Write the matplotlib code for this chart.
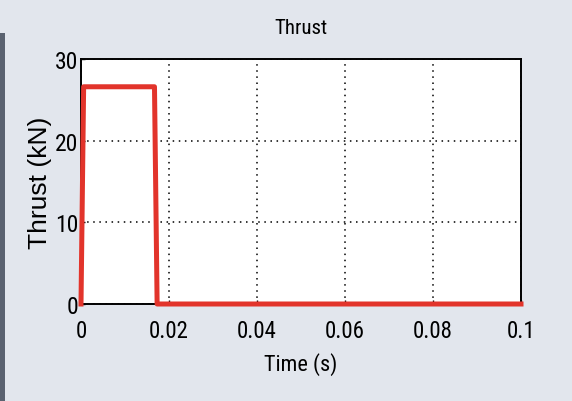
import matplotlib
matplotlib.use("Agg")
import matplotlib.pyplot as plt
from matplotlib.patches import Rectangle

# Thrust pulse sampled at its corner points
time_s = [0.0, 0.0006, 0.0167, 0.0173, 0.1]
thrust_kn = [0.0, 26.6, 26.6, 0.0, 0.0]
x_ticks = [0, 0.02, 0.04, 0.06, 0.08, 0.1]
x_tick_labels = ["0", "0.02", "0.04", "0.06", "0.08", "0.1"]
y_ticks = [0, 10, 20, 30]
y_tick_labels = ["0", "10", "20", "30"]

narrow = ["Roboto Condensed", "DejaVu Sans"]
regular = ["Liberation Sans", "DejaVu Sans"]

fig = plt.figure(figsize=(5.72, 4.02), dpi=100, facecolor="#e2e6ed")
fig.patches.append(Rectangle((0, 0), 0.009, 0.915, transform=fig.transFigure,
                             facecolor="#5a6270", edgecolor="none", zorder=0))

ax = fig.add_axes([81 / 572, 97 / 402, 440 / 572, 245 / 402])
ax.set_facecolor("white")

ax.plot(time_s, thrust_kn, color="#e2342b", linewidth=3.6,
        solid_joinstyle="round", clip_on=False, zorder=5)

ax.set_xlim(0, 0.1)
ax.set_ylim(0, 30)
ax.set_xticks(x_ticks)
ax.set_xticklabels(x_tick_labels, family=narrow, fontsize=16.5)
ax.set_yticks(y_ticks)
ax.set_yticklabels(y_tick_labels, family=narrow, fontsize=17)
ax.tick_params(direction="in", length=3, width=1, colors="black")
ax.tick_params(axis="x", pad=11)
ax.tick_params(axis="y", pad=2)

ax.grid(True, color="black", linestyle=(0, (1, 3)), linewidth=1.1)
for s in ax.spines.values():
    s.set_linewidth(1.4)
    s.set_color("black")

ax.set_title("Thrust", family=narrow, fontsize=15, pad=19)
ax.set_xlabel("Time (s)", family=narrow, fontsize=16, labelpad=7)
ax.set_ylabel("Thrust (kN)", family=regular, fontsize=19, labelpad=2)

fig.savefig("out.png", dpi=100, facecolor=fig.get_facecolor())
